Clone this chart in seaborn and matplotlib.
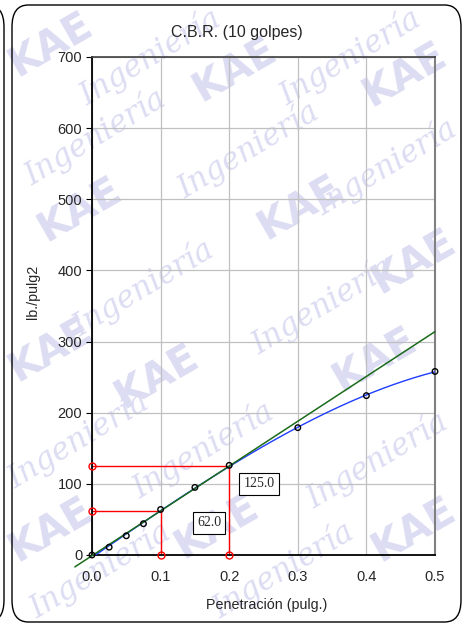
import numpy as np
import pandas as pd
import matplotlib
matplotlib.use("Agg")
import matplotlib.pyplot as plt
from matplotlib.patches import FancyBboxPatch
import seaborn as sns

# Penetration test readings (10 blows)
penetracion = [0.0, 0.025, 0.05, 0.075, 0.1, 0.15, 0.2, 0.3, 0.4, 0.5]
carga = [0, 11, 27, 44, 64, 95, 126, 179, 224, 258]

# Corrected straight line (slope, intercept) and CBR reference readings
recta_pendiente = 630.0
recta_origen = -1.0
x_ref = [0.1, 0.2]
carga_corregida = [62.0, 125.0]

x_ticks = [0.0, 0.1, 0.2, 0.3, 0.4, 0.5]
y_ticks = [0, 100, 200, 300, 400, 500, 600, 700]

sns.set_style("white")
plt.rcParams["font.family"] = ["Liberation Sans", "DejaVu Sans"]

W, H = 465, 627
fig = plt.figure(figsize=(W / 100, H / 100), dpi=100)
fig.patch.set_facecolor("white")

# Background watermark (pixel centres from the top-left corner)
wm_color = "#dcdcf3"
kae_pos = [(32, 45), (235, 70), (405, 75), (80, 210), (300, 208),
           (432, 262), (30, 350), (157, 377), (375, 360), (45, 530),
           (217, 527), (420, 530)]
ing_pos = [(150, 25), (350, 22), (95, 137), (248, 150), (405, 167),
           (143, 288), (322, 306), (55, 440), (203, 450), (377, 460),
           (100, 590), (283, 592)]
marca = []
for px, py in kae_pos:
    marca.append(fig.text(px / W, 1 - py / H, "KAE", fontsize=29,
                          fontweight="bold", color=wm_color, rotation=30,
                          family="DejaVu Sans", zorder=-5, ha="center",
                          va="center", rotation_mode="anchor"))
for px, py in ing_pos:
    marca.append(fig.text(px / W, 1 - py / H, "Ingeniería", fontsize=22,
                          style="italic", color=wm_color, rotation=31,
                          family="DejaVu Serif", zorder=-5, ha="center",
                          va="center", rotation_mode="anchor"))

# keep every watermark word fully inside the canvas
fig.canvas.draw()
rend = fig.canvas.get_renderer()
for t in marca:
    bb = t.get_window_extent(rend)
    dx = max(0.0, 2 - bb.x0) - max(0.0, bb.x1 - (W - 2))
    dy = max(0.0, 2 - bb.y0) - max(0.0, bb.y1 - (H - 2))
    x, y = t.get_position()
    t.set_position((x + dx / W, y + dy / H))

# Panel frames
fig.patches.append(FancyBboxPatch((12 / W, 5 / H), 449 / W, 617 / H,
                                  boxstyle="round,pad=0,rounding_size=0.035",
                                  transform=fig.transFigure, fill=False,
                                  edgecolor="black", linewidth=1.0, zorder=-1))
fig.patches.append(FancyBboxPatch((-0.95, 5 / H), 0.95 + 4 / W, 617 / H,
                                  boxstyle="round,pad=0,rounding_size=0.035",
                                  transform=fig.transFigure, fill=False,
                                  edgecolor="black", linewidth=1.0, zorder=-1))

ax = fig.add_axes([92 / W, 1 - 555 / H, 343 / W, 498 / H])
ax.set_facecolor("none")

df = pd.DataFrame({"x": penetracion, "y": carga})

# Fitted curve through the readings
coef = np.polyfit(penetracion, carga, 3)
xs = np.linspace(0.003, 0.5, 200)
sns.lineplot(x=xs, y=np.polyval(coef, xs), ax=ax, color="#1f3cff", lw=1.0,
             zorder=3)

# Corrected straight line
xl = np.array([-0.025, 0.5])
ax.plot(xl, recta_pendiente * xl + recta_origen, color="#1a6b1a", lw=1.1,
        zorder=4, clip_on=False)

# Reference lines at 0.1 and 0.2 in.
for xr, yr in zip(x_ref, carga_corregida):
    ax.plot([0, xr], [yr, yr], color="red", lw=1.0, zorder=2)
    ax.plot([xr, xr], [0, yr], color="red", lw=1.0, zorder=2)
    ax.plot([0, xr], [yr, 0], ls="none", marker="o", ms=5, mfc="none",
            mec="red", mew=1.0, zorder=5, clip_on=False)

sns.scatterplot(data=df, x="x", y="y", ax=ax, marker="o", s=16,
                facecolor="none", edgecolor="black", linewidth=1.0, zorder=7,
                clip_on=False)

label_pos = [(0.1706, 45), (0.2434, 100)]
for (lx, ly), val in zip(label_pos, carga_corregida):
    ax.text(lx, ly, f"{val:.1f}", ha="center", va="center", fontsize=10,
            family=["Liberation Serif", "DejaVu Serif"], zorder=8,
            bbox=dict(boxstyle="square,pad=0.3", fc="white", ec="black",
                      lw=0.8))

ax.set_xlim(0, 0.5)
ax.set_ylim(0, 700)
ax.set_xticks(x_ticks)
ax.set_xticklabels([f"{t:.1f}" for t in x_ticks])
ax.set_yticks(y_ticks)
ax.set_yticklabels([str(t) for t in y_ticks])
ax.grid(True, color="#c0c0c0", lw=0.9, zorder=0)
ax.set_axisbelow(True)
ax.tick_params(axis="y", which="major", left=True, length=4, width=0.8,
               color="black", labelsize=10.5, pad=3)
ax.tick_params(axis="x", which="major", bottom=False, labelsize=10.5, pad=7)
for side in ["left", "bottom"]:
    ax.spines[side].set_color("black")
    ax.spines[side].set_linewidth(1.3)
ax.spines["top"].set_color("#404040")
ax.spines["top"].set_linewidth(1.2)
ax.spines["right"].set_color("#808080")
ax.spines["right"].set_linewidth(1.5)
ax.set_xlabel("")
ax.set_ylabel("")

fig.text(237 / W, 1 - 33 / H, "C.B.R. (10 golpes)", ha="center", va="center",
         fontsize=11.5)
fig.text(33 / W, 1 - 292 / H, "lb./pulg2", ha="center", va="center",
         rotation=90, fontsize=10.3)
fig.text(267 / W, 1 - 605 / H, "Penetración (pulg.)", ha="center",
         va="center", fontsize=10.3)

fig.savefig("out.png", dpi=100, facecolor="white")
